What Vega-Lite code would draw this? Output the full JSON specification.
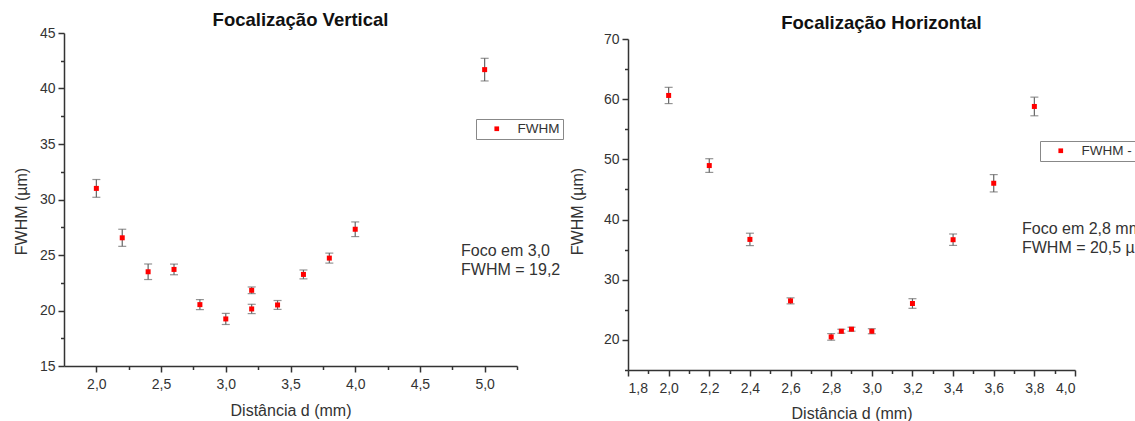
{
  "$schema": "https://vega.github.io/schema/vega-lite/v6.json",
  "background": "white",
  "padding": {"left": 13, "top": 10, "right": 0, "bottom": 0},
  "spacing": 5,
  "config": {
    "font": "Liberation Sans",
    "view": {"stroke": null},
    "axis": {
      "grid": false,
      "domainColor": "#333",
      "domainWidth": 1.5,
      "tickColor": "#333",
      "tickWidth": 1.5,
      "tickSize": 6,
      "labelFont": "Liberation Sans",
      "labelFontSize": 14,
      "labelColor": "#333",
      "labelPadding": 3,
      "titleFont": "Liberation Sans",
      "titleFontSize": 16,
      "titleFontWeight": "normal",
      "titleColor": "#333"
    },
    "axisX": {"labelPadding": 5},
    "title": {"font": "Liberation Sans", "fontSize": 18.5, "fontWeight": "bold", "color": "#111"},
    "legend": {
      "orient": "none",
      "title": null,
      "strokeColor": "#888",
      "fillColor": "white",
      "padding": 3,
      "symbolOffset": 11,
      "labelOffset": 14,
      "labelFont": "Liberation Sans",
      "labelFontSize": 13.5,
      "labelColor": "#333",
      "symbolSize": 22,
      "symbolType": "square",
      "symbolStrokeWidth": 0
    }
  },
  "hconcat": [
    {
      "width": 453,
      "height": 333,
      "title": {"text": "Focalização Vertical", "offset": -3, "dx": 10},
      "data": {"values": [
        {"d": 2.0, "fwhm": 31.0, "err": 0.8},
        {"d": 2.2, "fwhm": 26.55, "err": 0.77},
        {"d": 2.4, "fwhm": 23.49, "err": 0.7},
        {"d": 2.6, "fwhm": 23.7, "err": 0.48},
        {"d": 2.8, "fwhm": 20.53, "err": 0.45},
        {"d": 3.0, "fwhm": 19.24, "err": 0.5},
        {"d": 3.2, "fwhm": 21.82, "err": 0.3},
        {"d": 3.2, "fwhm": 20.14, "err": 0.42},
        {"d": 3.4, "fwhm": 20.5, "err": 0.4},
        {"d": 3.6, "fwhm": 23.25, "err": 0.4},
        {"d": 3.8, "fwhm": 24.72, "err": 0.45},
        {"d": 4.0, "fwhm": 27.32, "err": 0.66},
        {"d": 5.0, "fwhm": 41.7, "err": 1.02}
      ]},
      "layer": [
        {
          "mark": {"type": "errorbar", "ticks": true, "size": 8, "thickness": 1.2, "color": "#666"},
          "encoding": {
            "x": {"field": "d", "type": "quantitative",
              "scale": {"domain": [1.75, 5.25], "nice": false, "zero": false},
              "axis": {"title": "Distância d (mm)", "orient": "bottom", "titlePadding": 11,
                "values": [2, 2.5, 3, 3.5, 4, 4.5, 5],
                "labelExpr": "replace(format(datum.value, '.1f'), '.', ',')"}},
            "y": {"field": "fwhm", "type": "quantitative",
              "scale": {"domain": [15, 45], "nice": false, "zero": false},
              "axis": {"title": "FWHM (µm)", "orient": "left", "titlePadding": 10, "titleY": 178,
                "values": [15, 20, 25, 30, 35, 40, 45], "format": "d"}},
            "yError": {"field": "err"}
          }
        },
        {
          "mark": {"type": "square", "size": 25, "opacity": 1},
          "encoding": {
            "x": {"field": "d", "type": "quantitative",
              "axis": {"orient": "bottom", "title": null, "labels": false, "domain": false, "tickSize": 3.5,
                "values": [2.25, 2.75, 3.25, 3.75, 4.25, 4.75, 5.25]}},
            "y": {"field": "fwhm", "type": "quantitative",
              "axis": {"orient": "left", "title": null, "labels": false, "domain": false, "tickSize": 3.5,
                "values": [17.5, 22.5, 27.5, 32.5, 37.5, 42.5]}},
            "color": {"datum": "FWHM", "type": "nominal",
              "scale": {"range": ["#ff0000"]},
              "legend": {"legendX": 412, "legendY": 86}}
          }
        },
        {
          "data": {"values": [{}]},
          "mark": {"type": "text", "text": ["Foco em 3,0 mm", "FWHM = 19,2 µm"],
            "align": "left", "baseline": "middle", "fontSize": 16, "lineHeight": 19,
            "limit": 102, "ellipsis": "\u200b", "color": "#333", "font": "Liberation Sans"},
          "encoding": {
            "x": {"datum": 4.818, "type": "quantitative", "axis": null},
            "y": {"datum": 25.4, "type": "quantitative", "axis": null}
          }
        }
      ],
      "resolve": {"axis": {"x": "independent", "y": "independent"}}
    },
    {
      "width": 447,
      "height": 337,
      "title": {"text": "Focalização Horizontal", "offset": 0, "dx": 30},
      "data": {"values": [
        {"d": 2.0, "fwhm": 60.62, "err": 1.35},
        {"d": 2.2, "fwhm": 48.97, "err": 1.14},
        {"d": 2.4, "fwhm": 36.7, "err": 1.03},
        {"d": 2.6, "fwhm": 26.49, "err": 0.5},
        {"d": 2.8, "fwhm": 20.5, "err": 0.55},
        {"d": 2.85, "fwhm": 21.44, "err": 0.33},
        {"d": 2.9, "fwhm": 21.78, "err": 0.33},
        {"d": 3.0, "fwhm": 21.44, "err": 0.42},
        {"d": 3.2, "fwhm": 26.05, "err": 0.8},
        {"d": 3.4, "fwhm": 36.65, "err": 0.95},
        {"d": 3.6, "fwhm": 46.03, "err": 1.44},
        {"d": 3.8, "fwhm": 58.79, "err": 1.55}
      ]},
      "layer": [
        {
          "mark": {"type": "errorbar", "ticks": true, "size": 8, "thickness": 1.2, "color": "#666"},
          "encoding": {
            "x": {"field": "d", "type": "quantitative",
              "scale": {"domain": [1.8, 4.0], "nice": false, "zero": false},
              "axis": {"title": "Distância d (mm)", "orient": "bottom", "titlePadding": 10,
                "values": [1.8, 2.0, 2.2, 2.4, 2.6, 2.8, 3.0, 3.2, 3.4, 3.6, 3.8, 4.0],
                "labelExpr": "replace(format(datum.value, '.1f'), '.', ',')"}},
            "y": {"field": "fwhm", "type": "quantitative",
              "scale": {"domain": [15, 70], "range": [337, 6], "nice": false, "zero": false},
              "axis": {"title": "FWHM (µm)", "orient": "left", "titlePadding": 18, "titleY": 178,
                "values": [20, 30, 40, 50, 60, 70], "format": "d"}},
            "yError": {"field": "err"}
          }
        },
        {
          "mark": {"type": "square", "size": 25, "opacity": 1},
          "encoding": {
            "x": {"field": "d", "type": "quantitative",
              "axis": {"orient": "bottom", "title": null, "labels": false, "domain": false, "tickSize": 3.5,
                "values": [1.9, 2.1, 2.3, 2.5, 2.7, 2.9, 3.1, 3.3, 3.5, 3.7, 3.9]}},
            "y": {"field": "fwhm", "type": "quantitative",
              "axis": {"orient": "left", "title": null, "labels": false, "domain": false, "tickSize": 3.5,
                "values": [15, 25, 35, 45, 55, 65]}},
            "color": {"datum": "FWHM - Horizontal", "type": "nominal",
              "scale": {"range": ["#ff0000"]},
              "legend": {"legendX": 412, "legendY": 108}}
          }
        },
        {
          "data": {"values": [{}]},
          "mark": {"type": "text", "text": ["Foco em 2,8 mm", "FWHM = 20,5 µm"],
            "align": "left", "baseline": "middle", "fontSize": 16, "lineHeight": 19,
            "color": "#333", "font": "Liberation Sans"},
          "encoding": {
            "x": {"datum": 3.739, "type": "quantitative", "axis": null},
            "y": {"datum": 38.43, "type": "quantitative", "axis": null}
          }
        }
      ],
      "resolve": {"axis": {"x": "independent", "y": "independent"}}
    }
  ],
  "resolve": {
    "scale": {"color": "independent", "x": "independent", "y": "independent"},
    "legend": {"color": "independent"}
  }
}
